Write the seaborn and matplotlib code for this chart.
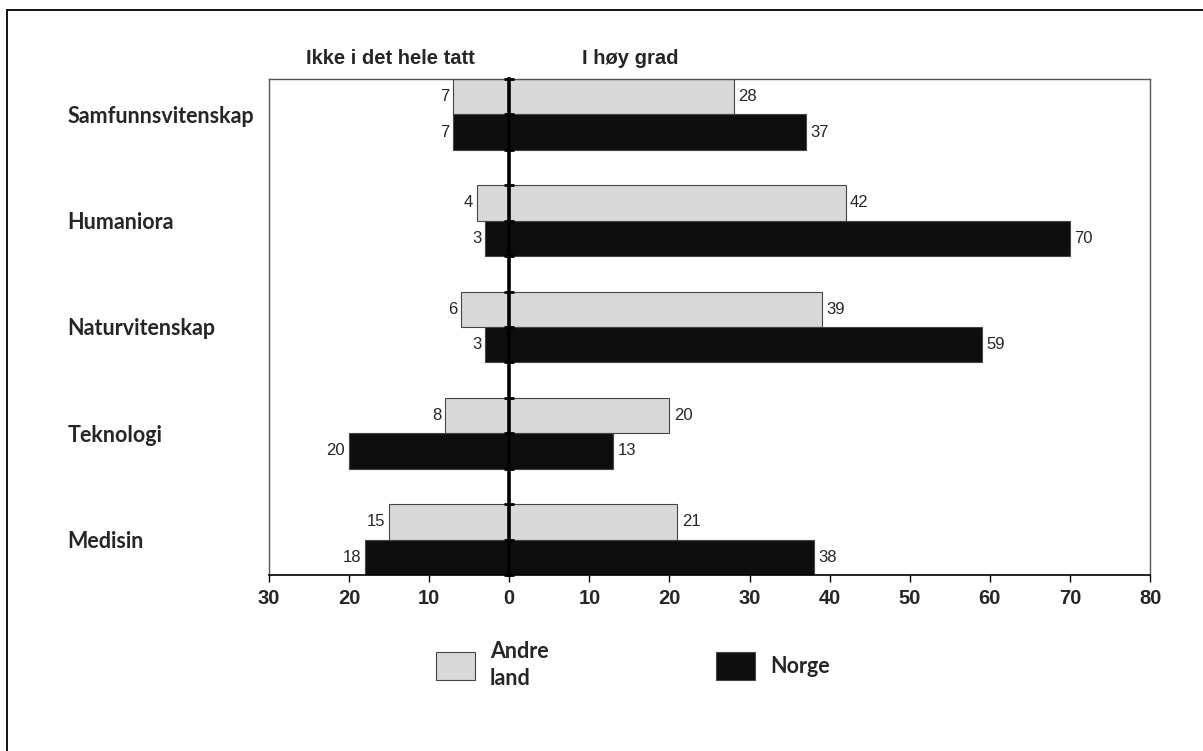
import numpy as np
import pandas as pd
import matplotlib
matplotlib.use("Agg")
import matplotlib.pyplot as plt
from matplotlib.lines import Line2D
import seaborn as sns

# ── data ───────────────────────────────────────────────
categories = ["Samfunnsvitenskap", "Humaniora", "Naturvitenskap", "Teknologi", "Medisin"]
series = ["Andre land", "Norge"]
andre_neg = [7, 4, 6, 8, 15]       # Ikke i det hele tatt
andre_pos = [28, 42, 39, 20, 21]   # I høy grad
norge_neg = [7, 3, 3, 20, 18]
norge_pos = [37, 70, 59, 13, 38]
xticks = list(range(-30, 81, 10))

colors = {"Andre land": "#d9d9d9", "Norge": "#0e0e0e"}

pos = pd.DataFrame({
    "kategori": categories * 2,
    "land": [series[0]] * 5 + [series[1]] * 5,
    "verdi": andre_pos + norge_pos,
})
neg = pd.DataFrame({
    "kategori": categories * 2,
    "land": [series[0]] * 5 + [series[1]] * 5,
    "verdi": [-v for v in andre_neg + norge_neg],
})

sns.set_theme(style="white")
plt.rcParams["font.family"] = ["Liberation Sans", "DejaVu Sans"]

fig = plt.figure(figsize=(12.03, 7.51), dpi=100)
ax = fig.add_axes([0.2236, 0.2344, 0.7324, 0.6604])

for df in (pos, neg):
    sns.barplot(data=df, x="verdi", y="kategori", hue="land", hue_order=series,
                palette=colors, order=categories, orient="h", width=2 / 3,
                errorbar=None, legend=False, ax=ax,
                edgecolor="#454545", linewidth=0.8, saturation=1)

# value labels
label_sets = [andre_pos, norge_pos, andre_neg, norge_neg]
for cont, labs in zip(ax.containers, label_sets):
    ax.bar_label(cont, labels=[str(v) for v in labs], padding=3, fontsize=12)

ax.set_xlim(-30, 80)
ax.set_ylim(len(categories) - 1 + 1 / 3, -1 / 3)
ax.set_xticks(xticks)
ax.set_xticklabels([str(abs(t)) for t in xticks], fontsize=14.5, fontweight="bold")
ax.tick_params(axis="x", direction="out", length=5, width=1, color="black", pad=5, bottom=True)
ax.set_xlabel("")
ax.set_ylabel("")

# category labels on the left
ax.tick_params(axis="y", length=0, pad=145)
for lab in ax.get_yticklabels():
    lab.set_ha("left")
    lab.set_fontfamily(["Lato", "DejaVu Sans"])
    lab.set_fontweight("bold")
    lab.set_fontsize(15.5)

for side in ["top", "left", "right"]:
    ax.spines[side].set_color("#555555")
    ax.spines[side].set_linewidth(1.0)
ax.spines["bottom"].set_color("black")
ax.spines["bottom"].set_linewidth(1.2)

# zero axis with ticks at the bar edges
x0, x1 = ax.get_xlim()
zero = ax.secondary_yaxis((0 - x0) / (x1 - x0))
zero.set_zorder(10)
edges = sorted(set(np.concatenate([np.arange(len(categories)) + d for d in (-1 / 3, 0, 1 / 3)])))
zero.set_yticks(edges)
zero.set_yticklabels([])
zero.tick_params(direction="inout", length=7, width=2, color="black")
zero.spines["left"].set_linewidth(2.6)
zero.spines["left"].set_color("black")

# headers
ax.text(-14.9, 1.042, "Ikke i det hele tatt", transform=ax.get_xaxis_transform(),
        ha="center", va="center", fontsize=14.5, fontweight="bold")
ax.text(15.1, 1.042, "I høy grad", transform=ax.get_xaxis_transform(),
        ha="center", va="center", fontsize=14.5, fontweight="bold")

# legend
handles = [ax.containers[0].patches[0], ax.containers[1].patches[0]]
leg = fig.legend(handles, ["Andre\nland", "Norge"], loc="center",
                 bbox_to_anchor=(0.526, 0.115), ncol=2, frameon=False,
                 handlelength=1.8, handleheight=1.6, handletextpad=0.7,
                 columnspacing=7.8,
                 prop={"family": ["Lato", "DejaVu Sans"], "weight": "bold", "size": 15.5})
leg.get_texts()[0].set_linespacing(1.35)

# outer frame of the figure
fig.add_artist(Line2D([0.0058, 0.0058], [0, 0.9867], color="black", lw=1.3))
fig.add_artist(Line2D([0.0058, 1], [0.9867, 0.9867], color="black", lw=1.3))

fig.savefig("out.png", dpi=100)
